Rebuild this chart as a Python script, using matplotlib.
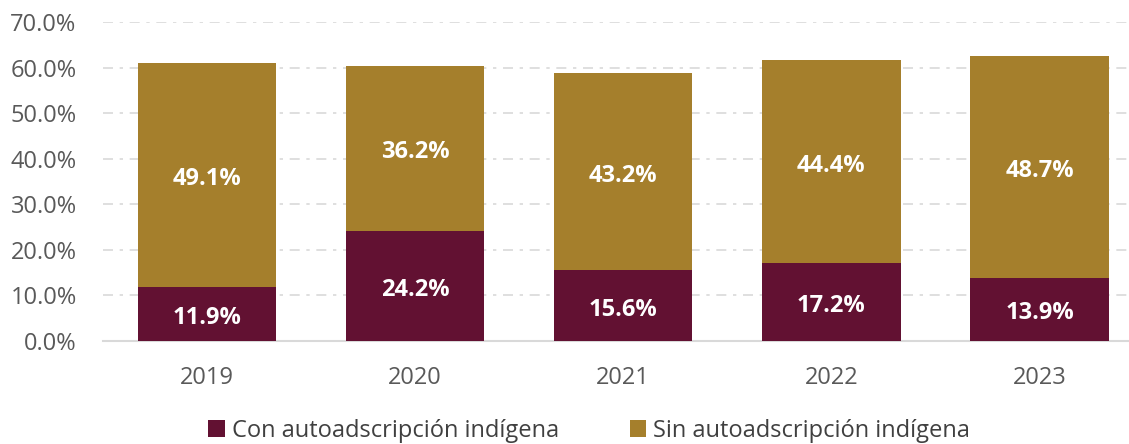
import matplotlib
matplotlib.use("Agg")
import matplotlib.pyplot as plt
import numpy as np
from matplotlib.ticker import FuncFormatter

years = ["2019", "2020", "2021", "2022", "2023"]
con_indigena = [11.9, 24.2, 15.6, 17.2, 13.9]
sin_indigena = [49.1, 36.2, 43.2, 44.4, 48.7]
series_names = ["Con autoadscripción indígena", "Sin autoadscripción indígena"]
colors = ["#621132", "#A57F2C"]

plt.rcParams["font.family"] = ["Open Sans", "DejaVu Sans"]

W, H = 1129, 444
fig = plt.figure(figsize=(W / 100, H / 100), dpi=100)
ax = fig.add_axes([103 / W, (H - 341) / H, (W - 103) / W, (341 - 22) / H])

x = np.arange(len(years))
bw = 0.665
b1 = ax.bar(x, con_indigena, bw, color=colors[0], label=series_names[0], zorder=2)
b2 = ax.bar(x, sin_indigena, bw, bottom=con_indigena, color=colors[1],
            label=series_names[1], zorder=2)

for rects, vals, bots in ((b1, con_indigena, [0] * 5), (b2, sin_indigena, con_indigena)):
    for r, v, b in zip(rects, vals, bots):
        ax.text(r.get_x() + r.get_width() / 2, b + v / 2 - 0.9, f"{v:.1f}%",
                ha="center", va="center", color="white", fontsize=17,
                fontweight="bold", zorder=3)

ax.set_ylim(0, 70)
ax.set_xlim(-0.5, 4.43)
ax.set_yticks(np.arange(0, 71, 10))
ax.yaxis.set_major_formatter(FuncFormatter(lambda v, p: f"{v:.1f}%"))
ax.set_xticks(x)
ax.set_xticklabels(years)
ax.tick_params(axis="both", length=0, labelsize=17, colors="#595959")
ax.tick_params(axis="x", pad=18)
ax.tick_params(axis="y", pad=19)

ax.grid(axis="y", color="#d9d9d9", linestyle=(0, (6, 4, 2, 4)), linewidth=1.2, zorder=0)
for s in ["top", "right", "left"]:
    ax.spines[s].set_visible(False)
ax.spines["bottom"].set_color("#d9d9d9")
ax.spines["bottom"].set_linewidth(1.5)
ax.spines["bottom"].set_zorder(1)

leg = fig.legend(loc="lower center", bbox_to_anchor=(0.522, -0.045), ncol=2, frameon=False,
                 fontsize=17, handlelength=0.7, handleheight=0.7, handletextpad=0.3,
                 columnspacing=3.0, labelcolor="#404040")

fig.savefig("out.png", dpi=100)
